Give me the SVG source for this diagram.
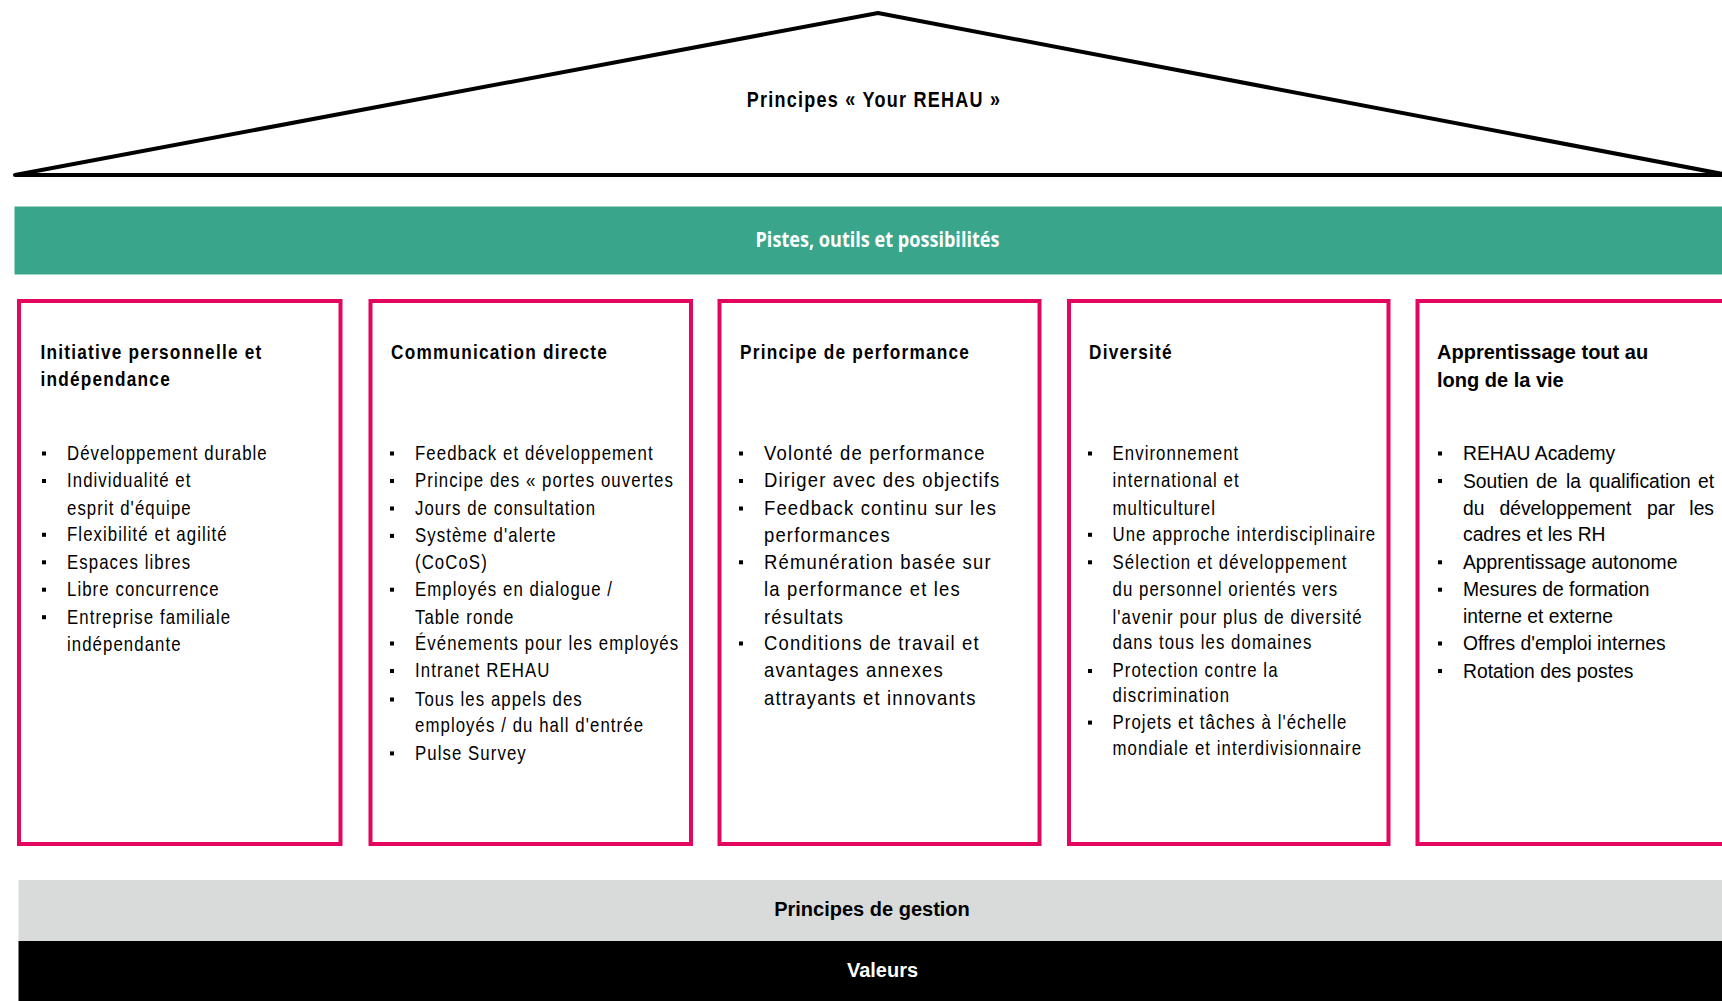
<svg xmlns="http://www.w3.org/2000/svg" width="1722" height="1001" viewBox="0 0 1722 1001">
<style>
.roof{fill:#fff;stroke:#000;stroke-width:4;stroke-linejoin:round}
.box{fill:#fff;stroke:#E2065F;stroke-width:4}
.h{font-family:"Liberation Sans",Arial,sans-serif;font-weight:bold;font-size:21px;letter-spacing:1.5px;fill:#000}
.b{font-family:"Liberation Sans",Arial,sans-serif;font-size:20.5px;letter-spacing:1.3px;fill:#000}
.h5{font-family:"Liberation Sans",Arial,sans-serif;font-weight:bold;font-size:20px;fill:#000}
.b5{font-family:"Liberation Sans",Arial,sans-serif;font-size:19.3px;fill:#000}
.band{font-family:"Liberation Sans",Arial,sans-serif;font-weight:bold;font-size:20px;text-anchor:middle}
.pistes{font-family:"Open Sans","Noto Sans",sans-serif;font-weight:bold;font-size:22px;fill:#fff}
.bul{fill:#000}
</style>
<defs>
<rect id="sq" class="bul" width="4" height="4"/>
</defs>
<rect width="1722" height="1001" fill="#fff"/>

<g id="roof">
<polygon class="roof" points="15,175 878,13 1728,175"/>
<g transform="translate(874 0) scale(0.82 1)">
<text class="h" x="0" y="107" text-anchor="middle" style="font-size:22px">Principes « Your REHAU »</text>
</g>
</g>

<g id="pistes">
<rect x="14.5" y="206.5" width="1708" height="68" fill="#39A68B"/>
<text class="pistes" x="755.5" y="247" textLength="244" lengthAdjust="spacingAndGlyphs">Pistes, outils et possibilités</text>
</g>

<g id="col1">
<rect class="box" x="19" y="301" width="321.5" height="543"/>
<g transform="translate(40.5 0) scale(0.82 1)">
<text class="h" x="0" y="359">Initiative personnelle et</text>
<text class="h" x="0" y="386.5">indépendance</text>
</g>
<use href="#sq" x="42" y="451.5"/>
<use href="#sq" x="42" y="479"/>
<use href="#sq" x="42" y="532.8"/>
<use href="#sq" x="42" y="560.3"/>
<use href="#sq" x="42" y="587.7"/>
<use href="#sq" x="42" y="615.2"/>
<g transform="translate(67 1) scale(0.82 1)">
<text class="b" x="0" y="459">Développement durable</text>
<text class="b" x="0" y="486.5">Individualité et</text>
<text class="b" x="0" y="514">esprit d'équipe</text>
<text class="b" x="0" y="540.3">Flexibilité et agilité</text>
<text class="b" x="0" y="567.8">Espaces libres</text>
<text class="b" x="0" y="595.2">Libre concurrence</text>
<text class="b" x="0" y="622.7">Entreprise familiale</text>
<text class="b" x="0" y="650.1">indépendante</text>
</g>
</g>

<g id="col2">
<rect class="box" x="370.5" y="301" width="320.5" height="543"/>
<g transform="translate(391 0) scale(0.82 1)">
<text class="h" x="0" y="359">Communication directe</text>
</g>
<use href="#sq" x="390" y="451.5"/>
<use href="#sq" x="390" y="479"/>
<use href="#sq" x="390" y="506.5"/>
<use href="#sq" x="390" y="533.9"/>
<use href="#sq" x="390" y="587.7"/>
<use href="#sq" x="390" y="641.5"/>
<use href="#sq" x="390" y="669"/>
<use href="#sq" x="390" y="697.5"/>
<use href="#sq" x="390" y="751.4"/>
<g transform="translate(415 1) scale(0.82 1)">
<text class="b" x="0" y="459">Feedback et développement</text>
<text class="b" x="0" y="486.5">Principe des « portes ouvertes</text>
<text class="b" x="0" y="514">Jours de consultation</text>
<text class="b" x="0" y="541.4">Système d'alerte</text>
<text class="b" x="0" y="567.8">(CoCoS)</text>
<text class="b" x="0" y="595.2">Employés en dialogue /</text>
<text class="b" x="0" y="622.7">Table ronde</text>
<text class="b" x="0" y="649">Événements pour les employés</text>
<text class="b" x="0" y="676.5">Intranet REHAU</text>
<text class="b" x="0" y="705">Tous les appels des</text>
<text class="b" x="0" y="731.4">employés / du hall d'entrée</text>
<text class="b" x="0" y="758.9">Pulse Survey</text>
</g>
</g>

<g id="col3">
<rect class="box" x="719.5" y="301" width="320" height="543"/>
<g transform="translate(740 0) scale(0.82 1)">
<text class="h" x="0" y="359">Principe de performance</text>
</g>
<use href="#sq" x="739" y="451.5"/>
<use href="#sq" x="739" y="479"/>
<use href="#sq" x="739" y="506.5"/>
<use href="#sq" x="739" y="560.3"/>
<use href="#sq" x="739" y="641.5"/>
<g transform="translate(764 1) scale(0.9 1)">
<text class="b" x="0" y="459">Volonté de performance</text>
<text class="b" x="0" y="486.5">Diriger avec des objectifs</text>
<text class="b" x="0" y="514">Feedback continu sur les</text>
<text class="b" x="0" y="541.4">performances</text>
<text class="b" x="0" y="567.8">Rémunération basée sur</text>
<text class="b" x="0" y="595.2">la performance et les</text>
<text class="b" x="0" y="622.7">résultats</text>
<text class="b" x="0" y="649">Conditions de travail et</text>
<text class="b" x="0" y="676.5">avantages annexes</text>
<text class="b" x="0" y="703.9">attrayants et innovants</text>
</g>
</g>

<g id="col4">
<rect class="box" x="1069" y="301" width="319.5" height="543"/>
<g transform="translate(1089 0) scale(0.82 1)">
<text class="h" x="0" y="359">Diversité</text>
</g>
<use href="#sq" x="1088" y="451.5"/>
<use href="#sq" x="1088" y="532.8"/>
<use href="#sq" x="1088" y="560.3"/>
<use href="#sq" x="1088" y="669"/>
<use href="#sq" x="1088" y="720.6"/>
<g transform="translate(1112.5 1) scale(0.82 1)">
<text class="b" x="0" y="459">Environnement</text>
<text class="b" x="0" y="486.5">international et</text>
<text class="b" x="0" y="514">multiculturel</text>
<text class="b" x="0" y="540.3">Une approche interdisciplinaire</text>
<text class="b" x="0" y="567.8">Sélection et développement</text>
<text class="b" x="0" y="595.2">du personnel orientés vers</text>
<text class="b" x="0" y="622.7">l'avenir pour plus de diversité</text>
<text class="b" x="0" y="647.9">dans tous les domaines</text>
<text class="b" x="0" y="676.5">Protection contre la</text>
<text class="b" x="0" y="700.7">discrimination</text>
<text class="b" x="0" y="728.1">Projets et tâches à l'échelle</text>
<text class="b" x="0" y="754.5">mondiale et interdivisionnaire</text>
</g>
</g>

<g id="col5">
<rect class="box" x="1417.5" y="301" width="320" height="543"/>
<text class="h5" x="1437" y="359">Apprentissage tout au</text>
<text class="h5" x="1437" y="386.5">long de la vie</text>
<use href="#sq" x="1438" y="451.5"/>
<use href="#sq" x="1438" y="479"/>
<use href="#sq" x="1438" y="560.3"/>
<use href="#sq" x="1438" y="587.7"/>
<use href="#sq" x="1438" y="641.5"/>
<use href="#sq" x="1438" y="669"/>
<g transform="translate(0 1)">
<text class="b5" x="1463" y="459">REHAU Academy</text>
<text class="b5" y="486.5"><tspan x="1463">Soutien</tspan> <tspan x="1536">de</tspan> <tspan x="1566">la</tspan> <tspan x="1589">qualification</tspan> <tspan x="1714" text-anchor="end">et</tspan></text>
<text class="b5" y="514"><tspan x="1463">du</tspan> <tspan x="1499.5">développement</tspan> <tspan x="1647">par</tspan> <tspan x="1714" text-anchor="end">les</tspan></text>
<text class="b5" x="1463" y="540.3">cadres et les RH</text>
<text class="b5" x="1463" y="567.8">Apprentissage autonome</text>
<text class="b5" x="1463" y="595.2">Mesures de formation</text>
<text class="b5" x="1463" y="621.6">interne et externe</text>
<text class="b5" x="1463" y="649">Offres d'emploi internes</text>
<text class="b5" x="1463" y="676.5">Rotation des postes</text>
</g>
</g>

<g id="gestion">
<rect x="18.5" y="880" width="1704" height="61" fill="#D9DBDA"/>
<text class="band" x="872" y="916" fill="#000">Principes de gestion</text>
</g>

<g id="valeurs">
<rect x="18.5" y="941" width="1704" height="60" fill="#000"/>
<text class="band" x="882.5" y="977" fill="#fff">Valeurs</text>
</g>

<g id="connectors"/>
</svg>
